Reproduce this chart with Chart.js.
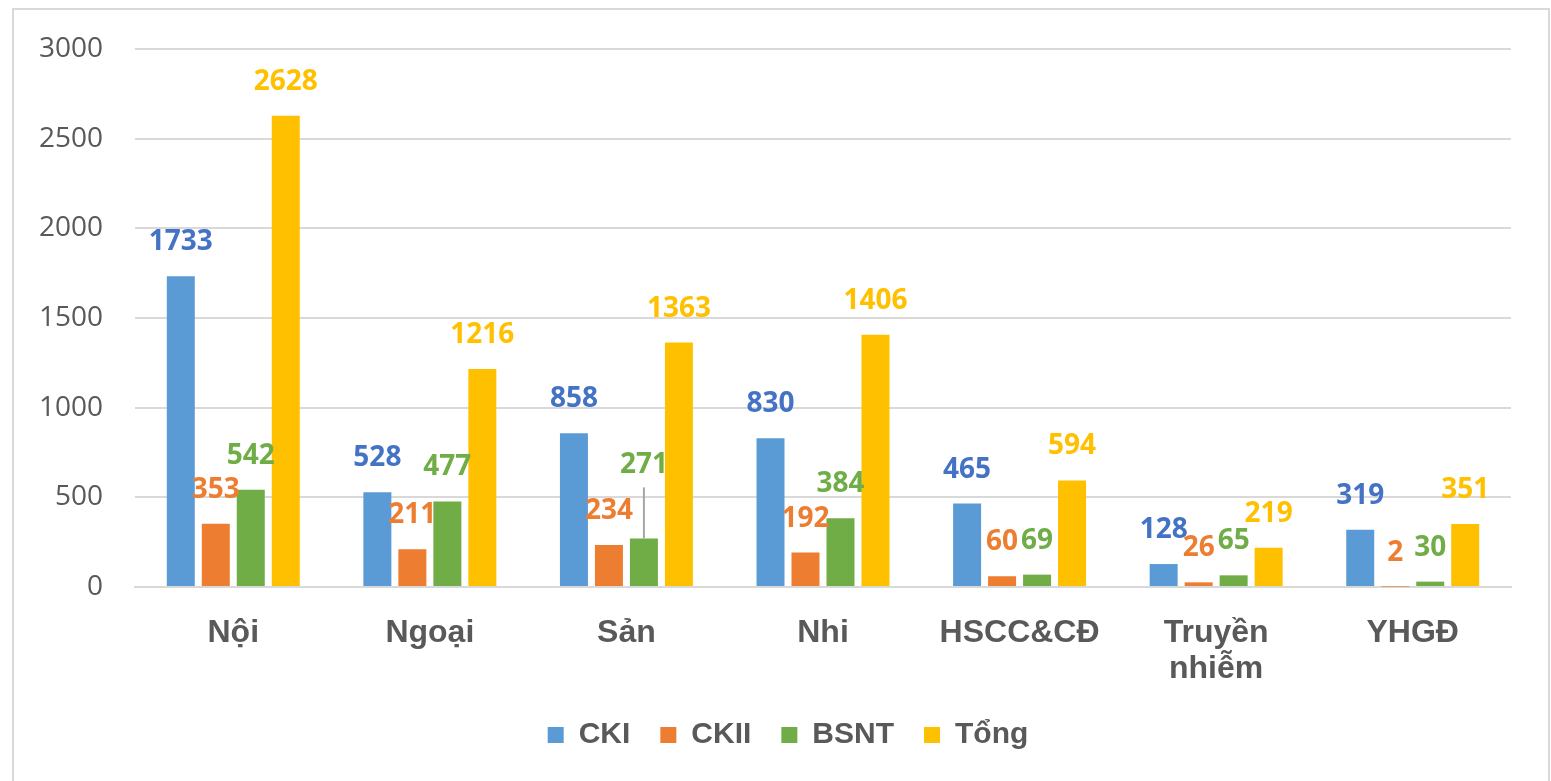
<!DOCTYPE html>
<html>
<head>
<meta charset="utf-8">
<script src="https://cdn.jsdelivr.net/npm/chart.js@4.4.1/dist/chart.umd.min.js"></script>
<style>
    html, body { margin: 0; padding: 0; background: #ffffff; overflow: hidden; }
    #frame {
        position: absolute; left: 12px; top: 8px; width: 1538px; height: 800px;
        border: 2px solid #d9d9d9; box-sizing: border-box;
    }
    #wrap { position: absolute; left: 0; top: 0; width: 1551px; height: 781px; }
</style>
</head>
<body>
<div id="frame"></div>
<div id="wrap"><canvas id="chart"></canvas></div>
<script>
const categories = ['Nội', 'Ngoại', 'Sản', 'Nhi', 'HSCC&CĐ', ['Truyền', 'nhiễm'], 'YHGĐ'];
const seriesNames = ['CKI', 'CKII', 'BSNT', 'Tổng'];
const ckiValues = [1733, 528, 858, 830, 465, 128, 319];
const ckiiValues = [353, 211, 234, 192, 60, 26, 2];
const bsntValues = [542, 477, 271, 384, 69, 65, 30];
const tongValues = [2628, 1216, 1363, 1406, 594, 219, 351];
const yTicks = [0, 500, 1000, 1500, 2000, 2500, 3000];

const barColors = ['#5B9BD5', '#ED7D31', '#70AD47', '#FFC000'];
const labelColors = ['#4472C4', '#ED7D31', '#70AD47', '#FFC000'];

// value labels above bars (Excel style), one label moved up with a leader line
const barLabels = {
    id: 'barLabels',
    afterDatasetsDraw(chart, args, opts) {
        const ctx = chart.ctx;
        ctx.save();
        ctx.font = 'bold 28px "Open Sans"';
        ctx.textAlign = 'center';
        ctx.textBaseline = 'middle';
        chart.data.datasets.forEach((ds, di) => {
            const meta = chart.getDatasetMeta(di);
            meta.data.forEach((bar, i) => {
                const extra = opts.raised[di + '-' + i] || 0;
                const y = bar.y - opts.offset - extra;
                if (extra) {
                    ctx.strokeStyle = '#a6a6a6';
                    ctx.lineWidth = 2;
                    ctx.beginPath();
                    ctx.moveTo(bar.x, y + 22);
                    ctx.lineTo(bar.x, bar.y);
                    ctx.stroke();
                }
                ctx.fillStyle = labelColors[di];
                ctx.fillText(ds.data[i], bar.x, y);
            });
        });
        ctx.restore();
    }
};

const values = [ckiValues, ckiiValues, bsntValues, tongValues];

new Chart(document.getElementById('chart'), {
    type: 'bar',
    data: {
        labels: categories,
        datasets: seriesNames.map((name, k) => ({
            label: name,
            data: values[k],
            backgroundColor: barColors[k],
            borderWidth: 0,
            categoryPercentage: 0.712,
            barPercentage: 0.8
        }))
    },
    plugins: [barLabels],
    options: {
        responsive: true,
        maintainAspectRatio: false,
        animation: false,
        layout: { padding: { left: 30, right: 5, top: 49, bottom: 21 } },
        scales: {
            x: {
                grid: { display: false },
                border: { color: '#d9d9d9', width: 2 },
                ticks: {
                    color: '#595959',
                    font: { family: '"Liberation Sans", Arial', size: 32, weight: 'bold', lineHeight: 1.125 },
                    padding: 20,
                    autoSkip: false,
                    maxRotation: 0
                },
                afterFit(scale) { scale.height = 103; }
            },
            y: {
                min: 0,
                max: 3000,
                afterBuildTicks(scale) { scale.ticks = yTicks.map(v => ({ value: v })); },
                grid: { color: '#d9d9d9', lineWidth: 2, drawTicks: false },
                border: { display: false },
                ticks: {
                    color: '#595959',
                    font: { family: '"Open Sans"', size: 28 },
                    padding: 32,
                    callback: (v) => String(v)
                },
                afterFit(scale) { scale.width = 105; }
            },
            // empty right-hand axis, only to keep the right margin of the plot
            yRight: {
                type: 'linear',
                position: 'right',
                min: 0,
                max: 3000,
                grid: { display: false },
                border: { display: false },
                ticks: { display: false },
                afterFit(scale) { scale.width = 35; }
            }
        },
        plugins: {
            legend: {
                position: 'bottom',
                labels: {
                    color: '#595959',
                    font: { family: '"Liberation Sans", Arial', size: 30, weight: 'bold' },
                    boxWidth: 16,
                    boxHeight: 16,
                    padding: 30
                }
            },
            tooltip: { enabled: false },
            barLabels: { offset: 34, raised: { '2-2': 39 } }
        }
    }
});
</script>
</body>
</html>
